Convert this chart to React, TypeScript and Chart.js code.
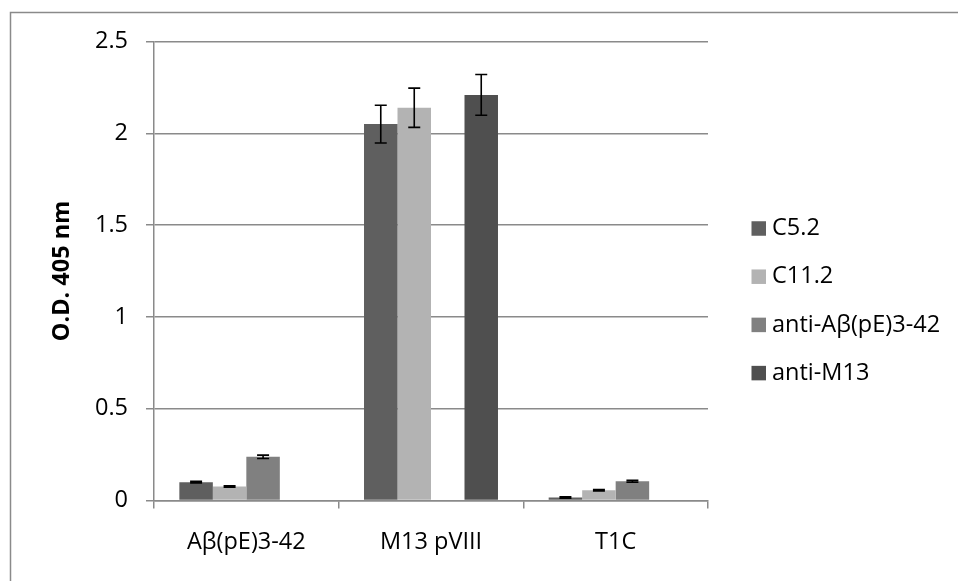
import React, { useEffect, useRef } from "react";
import { Chart, registerables } from "chart.js";

Chart.register(...registerables);

// Antigens on the x axis
const categories = ["Aβ(pE)3-42", "M13 pVIII", "T1C"];

// Antibody series (mean O.D. 405 nm)
const seriesNames = ["C5.2", "C11.2", "anti-Aβ(pE)3-42", "anti-M13"];
const c52Values = [0.1, 2.05, 0.016];
const c112Values = [0.076, 2.139, 0.056];
const antiAbetaValues = [0.238, null, 0.105];
const antiM13Values = [null, 2.209, null];

// Error bar half-lengths for each series
const c52Errors = [0.004, 0.103, 0.004];
const c112Errors = [0.004, 0.107, 0.004];
const antiAbetaErrors = [0.009, null, 0.005];
const antiM13Errors = [null, 0.111, null];

// Value axis
const yTickValues = [0, 0.5, 1, 1.5, 2, 2.5];
const yTickLabels = ["0", "0.5", "1", "1.5", "2", "2.5"];
const yAxisTitle = "O.D. 405 nm";

const seriesColors = ["#5f5f5f", "#b3b3b3", "#808080", "#4f4f4f"];
const gridColor = "#8a8a8a";
const fontFamily = "'Open Sans', 'Noto Sans', sans-serif";

const frameLines = {
  id: "frameLines",
  beforeDraw(chart: any) {
    const { ctx, width, height } = chart;
    ctx.save();
    ctx.strokeStyle = gridColor;
    ctx.lineWidth = 1.5;
    ctx.beginPath();
    ctx.moveTo(10.5, height);
    ctx.lineTo(10.5, 12.5);
    ctx.lineTo(width, 12.5);
    ctx.stroke();
    ctx.restore();
  },
};

const errorBars = {
  id: "errorBars",
  afterDatasetsDraw(chart: any) {
    const { ctx } = chart;
    const yScale = chart.scales.y;
    chart.data.datasets.forEach((ds: any, di: number) => {
      const meta = chart.getDatasetMeta(di);
      meta.data.forEach((bar: any, i: number) => {
        const v = ds.data[i];
        const e = ds.errors ? ds.errors[i] : null;
        if (v == null || e == null) return;
        const top = yScale.getPixelForValue(v + e);
        const bottom = yScale.getPixelForValue(v - e);
        const x = bar.x;
        const cap = 6;
        ctx.save();
        ctx.strokeStyle = "#000";
        ctx.lineWidth = 1.6;
        ctx.beginPath();
        ctx.moveTo(x, top);
        ctx.lineTo(x, bottom);
        ctx.moveTo(x - cap, top);
        ctx.lineTo(x + cap, top);
        ctx.moveTo(x - cap, bottom);
        ctx.lineTo(x + cap, bottom);
        ctx.stroke();
        ctx.restore();
      });
    });
  },
};

const sideLegend = {
  id: "sideLegend",
  afterDraw(chart: any) {
    const { ctx } = chart;
    const boxX = 751.5;
    const box = 14.5;
    const textX = 772;
    const firstRow = 228.5;
    const rowGap = 48.2;
    ctx.save();
    ctx.font = `23.5px ${fontFamily}`;
    ctx.textBaseline = "middle";
    ctx.textAlign = "left";
    chart.data.datasets.forEach((ds: any, i: number) => {
      const cy = firstRow + i * rowGap;
      ctx.fillStyle = ds.backgroundColor;
      ctx.fillRect(boxX, cy - box / 2, box, box);
      ctx.fillStyle = "#000";
      ctx.fillText(ds.label, textX, cy);
    });
    ctx.restore();
  },
};

export default function App() {
  const canvasRef = useRef<HTMLCanvasElement | null>(null);

  useEffect(() => {
    const canvas = canvasRef.current;
    if (!canvas) return;
    const valueSets = [c52Values, c112Values, antiAbetaValues, antiM13Values];
    const errorSets = [c52Errors, c112Errors, antiAbetaErrors, antiM13Errors];

    const chart = new Chart(canvas, {
      type: "bar",
      data: {
        labels: categories,
        datasets: seriesNames.map((name, i) => ({
          label: name,
          data: valueSets[i],
          errors: errorSets[i],
          backgroundColor: seriesColors[i],
          borderWidth: 0,
          categoryPercentage: 0.7255,
          barPercentage: 1,
        })) as any,
      },
      options: {
        animation: false,
        responsive: false,
        events: [],
        layout: { padding: { top: 41.5, right: 250, left: 0, bottom: 0 } },
        plugins: {
          legend: { display: false },
          tooltip: { enabled: false },
        },
        scales: {
          x: {
            grid: {
              display: true,
              drawOnChartArea: false,
              drawTicks: true,
              tickLength: 8,
              color: gridColor,
              lineWidth: 1.5,
              offset: true,
            },
            border: { display: true, color: gridColor, width: 1.5 },
            ticks: {
              color: "#000",
              font: { family: fontFamily, size: 23.5 },
              padding: 20,
              maxRotation: 0,
            },
            afterFit: (s: any) => {
              s.height = 80.5;
            },
          },
          y: {
            min: 0,
            max: 2.5,
            afterBuildTicks: (s: any) => {
              s.ticks = yTickValues.map((v) => ({ value: v }));
            },
            grid: {
              color: gridColor,
              lineWidth: 1.5,
              tickLength: 8,
              drawTicks: true,
            },
            border: { display: true, color: gridColor, width: 1.5 },
            ticks: {
              color: "#000",
              font: { family: fontFamily, size: 23.5 },
              padding: 18,
              callback: (_v: any, i: number) => yTickLabels[i],
            },
            title: {
              display: true,
              text: yAxisTitle,
              color: "#000",
              font: { family: fontFamily, size: 23.5, weight: "bold" },
              padding: { top: 48, bottom: 0 },
            },
            afterFit: (s: any) => {
              s.width = 154;
            },
          },
        },
      },
      plugins: [frameLines, errorBars, sideLegend],
    });

    return () => chart.destroy();
  }, []);

  return (
    <div style={{ position: "absolute", left: 0, top: 0, width: 958, height: 581, background: "#fff" }}>
      <canvas ref={canvasRef} width={958} height={581} style={{ display: "block" }} />
    </div>
  );
}
